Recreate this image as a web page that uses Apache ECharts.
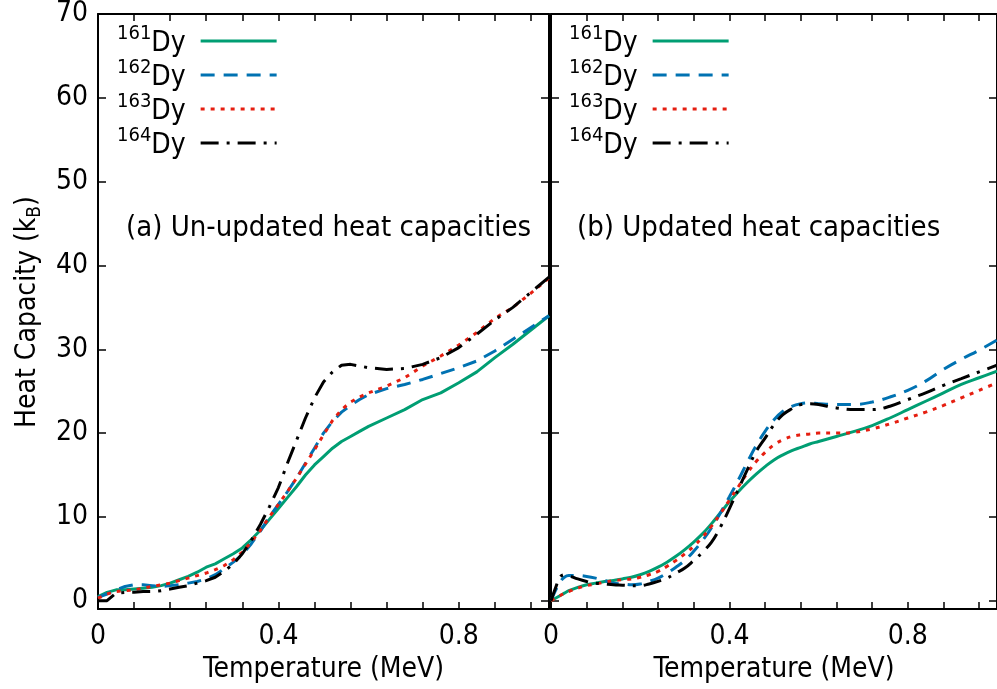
<!DOCTYPE html>
<html>
<head>
<meta charset="utf-8">
<script src="https://cdn.jsdelivr.net/npm/echarts@6/dist/echarts.min.js"></script>
<style>
  html, body { margin: 0; padding: 0; background: #fff; }
  #chart { width: 997px; height: 689px; }
</style>
</head>
<body>
<div id="chart"></div>
<script>
// temperature grids (MeV)
var tempA = [0, 0.02, 0.04, 0.06, 0.08, 0.1, 0.12, 0.14, 0.16, 0.18, 0.2, 0.22, 0.24, 0.26, 0.28, 0.3,
  0.32, 0.34, 0.36, 0.38, 0.4, 0.42, 0.44, 0.46, 0.48, 0.5, 0.52, 0.54, 0.56, 0.58, 0.6,
  0.64, 0.68, 0.72, 0.76, 0.8, 0.84, 0.88, 0.92, 0.96, 1.0];
var tempB = [0, 0.01, 0.02, 0.03, 0.04, 0.06, 0.08, 0.1, 0.12, 0.14, 0.16, 0.18, 0.2, 0.22, 0.24, 0.26,
  0.28, 0.3, 0.32, 0.34, 0.36, 0.38, 0.4, 0.42, 0.44, 0.46, 0.48, 0.5, 0.52, 0.54, 0.56, 0.58,
  0.6, 0.64, 0.68, 0.72, 0.76, 0.8, 0.84, 0.88, 0.92, 0.96, 1.0];

// (a) un-updated heat capacities (kB)
var capA161 = [0.5, 1.0, 1.3, 1.3, 1.4, 1.5, 1.6, 1.8, 2.1, 2.5, 2.9, 3.4, 4.0, 4.4, 5.0, 5.6,
  6.3, 7.3, 8.4, 9.7, 11.0, 12.3, 13.6, 15.0, 16.2, 17.2, 18.2, 19.0, 19.6, 20.2, 20.8,
  21.8, 22.8, 24.0, 24.8, 26.0, 27.3, 29.0, 30.6, 32.3, 34.0];
var capA162 = [0.4, 0.8, 1.3, 1.7, 1.9, 1.9, 1.8, 1.7, 1.8, 1.9, 2.1, 2.3, 2.6, 3.1, 3.8, 4.6,
  5.5, 6.8, 8.3, 10.0, 11.5, 13.0, 14.6, 16.4, 18.2, 20.0, 21.4, 22.5, 23.3, 24.0, 24.6,
  25.3, 25.8, 26.4, 27.1, 27.8, 28.6, 29.8, 31.2, 32.6, 34.0];
var capA163 = [0.3, 0.8, 1.1, 1.2, 1.3, 1.5, 1.7, 1.9, 2.1, 2.4, 2.7, 3.0, 3.3, 3.7, 4.2, 4.9,
  5.8, 7.0, 8.4, 10.0, 11.5, 13.0, 14.6, 16.3, 18.0, 19.8, 21.5, 22.8, 23.7, 24.3, 24.8,
  25.6, 26.6, 28.0, 29.2, 30.5, 32.0, 33.7, 35.0, 36.7, 38.5];
var capA164 = [0.0, 0.0, 0.9, 1.0, 1.0, 1.1, 1.1, 1.2, 1.4, 1.6, 1.8, 2.1, 2.4, 2.8, 3.5, 4.4,
  5.6, 7.2, 9.1, 11.2, 13.5, 16.4, 19.1, 21.8, 24.2, 26.1, 27.3, 28.1, 28.2, 28.0, 27.8,
  27.6, 27.7, 28.2, 29.0, 30.2, 31.8, 33.5, 35.0, 36.8, 38.6];

// (b) updated heat capacities (kB)
var capB161 = [0, 0.3, 0.6, 0.9, 1.2, 1.6, 1.9, 2.1, 2.3, 2.4, 2.6, 2.8, 3.1, 3.5, 4.0, 4.6,
  5.3, 6.1, 7.0, 8.0, 9.2, 10.5, 11.8, 13.0, 14.1, 15.1, 16.0, 16.8, 17.4, 17.9, 18.3, 18.7,
  19.0, 19.6, 20.2, 20.9, 21.8, 22.8, 23.8, 24.8, 25.8, 26.6, 27.4];
var capB162 = [0, 1.2, 2.2, 2.8, 3.0, 3.0, 2.9, 2.7, 2.4, 2.1, 2.0, 1.9, 2.0, 2.3, 2.7, 3.3,
  4.0, 4.8, 5.9, 7.2, 8.7, 10.5, 12.4, 14.4, 16.5, 18.5, 20.2, 21.6, 22.6, 23.2, 23.5, 23.6,
  23.5, 23.4, 23.4, 23.7, 24.3, 25.1, 26.2, 27.6, 28.8, 29.9, 31.1];
var capB163 = [0, 0.3, 0.6, 0.9, 1.1, 1.5, 1.8, 2.0, 2.2, 2.4, 2.5, 2.6, 2.8, 3.1, 3.5, 4.1,
  4.8, 5.6, 6.5, 7.6, 8.9, 10.4, 12.0, 13.6, 15.2, 16.6, 17.7, 18.6, 19.2, 19.6, 19.8, 19.9,
  20.0, 20.0, 20.1, 20.5, 21.1, 21.8, 22.5, 23.3, 24.2, 25.1, 26.0];
var capB164 = [0, 1.5, 2.8, 3.1, 3.0, 2.6, 2.3, 2.1, 2.0, 1.9, 1.85, 1.8, 1.8, 2.0, 2.3, 2.7,
  3.3, 3.9, 4.8, 5.8, 7.0, 8.8, 11.0, 13.3, 15.6, 17.8, 19.4, 21.0, 22.2, 22.9, 23.4, 23.5,
  23.4, 23.0, 22.8, 22.8, 23.2, 24.0, 24.8, 25.7, 26.5, 27.3, 28.1];

var isotopes = ['161Dy', '162Dy', '163Dy', '164Dy'];
var colors = ['#009e73', '#0072b2', '#e51e10', '#000000'];
var dashes = ['solid', [14, 9], [4, 6], [18, 8, 3, 8]];
var yTicks = [0, 10, 20, 30, 40, 50, 60, 70];

var FONT = 'DejaVu Sans Condensed';

function zip (xs, ys) {
  return xs.map(function (x, i) { return [x, ys[i]]; });
}

function xAxisFor (grid, pos, withLabel) {
  return {
    type: 'value', gridIndex: grid, position: pos, min: 0, max: 1, interval: 0.08,
    axisLine: { onZero: false, lineStyle: { color: '#000', width: 2 } },
    axisTick: { inside: true, length: 7, lineStyle: { color: '#000', width: 1.5 } },
    axisLabel: withLabel ? {
      customValues: [0, 0.4, 0.8], color: '#000', fontFamily: FONT, fontSize: 28, margin: 14,
      formatter: function (v) { return v === 0 ? '0' : String(v); }
    } : { show: false },
    splitLine: { show: false },
    name: withLabel ? 'Temperature (MeV)' : '',
    nameLocation: 'middle', nameGap: 46,
    nameTextStyle: { color: '#000', fontFamily: FONT, fontSize: 28 }
  };
}

function yAxisFor (grid, pos, withLabel) {
  return {
    type: 'value', gridIndex: grid, position: pos, min: -1, max: 70,
    axisLine: { onZero: false, lineStyle: { color: '#000', width: 2 } },
    axisTick: { inside: true, length: 8, customValues: yTicks, lineStyle: { color: '#000', width: 1.5 } },
    axisLabel: withLabel ? {
      customValues: yTicks, color: '#000', fontFamily: FONT, fontSize: 28, margin: 10
    } : { show: false },
    splitLine: { show: false }
  };
}

function legendFor (left) {
  return {
    orient: 'vertical', left: left, top: 19, align: 'right',
    itemWidth: 76, itemHeight: 14, itemGap: 0,
    selectedMode: false,
    data: isotopes,
    itemStyle: { opacity: 0 },
    lineStyle: { width: 3 },
    formatter: function (name) {
      return '{sup|' + name.slice(0, 3) + '}{dy|Dy}';
    },
    textStyle: {
      color: '#000', fontFamily: FONT,
      rich: {
        sup: { fontSize: 20, lineHeight: 34, verticalAlign: 'top', fontFamily: FONT },
        dy: { fontSize: 28, lineHeight: 34, verticalAlign: 'bottom', fontFamily: FONT, padding: [0, 10, 0, 0] }
      }
    }
  };
}

var panelA = [capA161, capA162, capA163, capA164];
var panelB = [capB161, capB162, capB163, capB164];
var series = [];
isotopes.forEach(function (name, i) {
  series.push({
    name: name, type: 'line', xAxisIndex: 0, yAxisIndex: 0,
    data: zip(tempA, panelA[i]), symbol: 'none', showSymbol: false,
    lineStyle: { color: colors[i], width: 3, type: dashes[i] },
    itemStyle: { color: colors[i] }
  });
});
isotopes.forEach(function (name, i) {
  series.push({
    name: name, type: 'line', xAxisIndex: 2, yAxisIndex: 2,
    data: zip(tempB, panelB[i]), symbol: 'none', showSymbol: false, smooth: 0.4,
    lineStyle: { color: colors[i], width: 3, type: dashes[i] },
    itemStyle: { color: colors[i] }
  });
});

var chart = echarts.init(document.getElementById('chart'));
chart.setOption({
  animation: false,
  backgroundColor: '#fff',
  grid: [
    { left: 98, top: 14, width: 451, height: 598 },
    { left: 551, top: 14, width: 449, height: 598 }
  ],
  xAxis: [
    xAxisFor(0, 'bottom', true),
    xAxisFor(0, 'top', false),
    xAxisFor(1, 'bottom', true),
    xAxisFor(1, 'top', false)
  ],
  yAxis: [
    yAxisFor(0, 'left', true),
    yAxisFor(0, 'right', false),
    yAxisFor(1, 'left', false),
    yAxisFor(1, 'right', false)
  ],
  legend: [legendFor(112), legendFor(564)],
  graphic: [
    {
      type: 'text', left: 126, top: 214,
      style: { text: '(a) Un-updated heat capacities', fill: '#000', font: '29px "' + FONT + '"' }
    },
    {
      type: 'text', left: 577, top: 214,
      style: { text: '(b) Updated heat capacities', fill: '#000', font: '29px "' + FONT + '"' }
    },
    {
      type: 'text', x: 28, y: 312, rotation: Math.PI / 2,
      style: {
        text: 'Heat Capacity (k{sub|B})', fill: '#000', fontFamily: FONT, fontSize: 28,
        align: 'center', verticalAlign: 'middle',
        rich: {
          sub: { fontSize: 19, fontFamily: FONT, verticalAlign: 'bottom', lineHeight: 34, padding: [10, 0, 0, 0] }
        }
      }
    }
  ],
  series: series
});
</script>
</body>
</html>
